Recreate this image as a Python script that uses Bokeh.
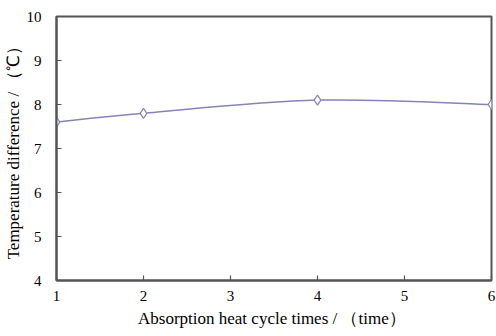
from bokeh.plotting import figure
from bokeh.models import Range1d, FixedTicker, ColumnDataSource
from bokeh.embed import file_html
from bokeh.resources import INLINE

# Absorption heat cycle count vs. temperature difference
cycles = [1, 2, 4, 6]
temp_diff = [7.6, 7.8, 8.1, 8.0]
x_ticks = [1, 2, 3, 4, 5, 6]
y_ticks = [4, 5, 6, 7, 8, 9, 10]

LINE = "#8484b8"
AXIS = "#555555"
FONT = "Liberation Serif"

p = figure(width=496, height=336, output_backend="svg", toolbar_location=None,
           x_range=Range1d(1, 6), y_range=Range1d(4, 10),
           min_border_left=56, min_border_right=5, min_border_top=16, min_border_bottom=56)
p.background_fill_color = "white"
p.border_fill_color = "white"
p.grid.visible = False
p.outline_line_color = AXIS
p.outline_line_width = 2

# Smoothed line through the points (Catmull-Rom style Bezier segments)
n = len(cycles)
x0, y0, x1, y1, cx0, cy0, cx1, cy1 = [], [], [], [], [], [], [], []
for i in range(n - 1):
    xa, ya = cycles[max(i - 1, 0)], temp_diff[max(i - 1, 0)]
    xb, yb = cycles[i], temp_diff[i]
    xc, yc = cycles[i + 1], temp_diff[i + 1]
    xd, yd = cycles[min(i + 2, n - 1)], temp_diff[min(i + 2, n - 1)]
    x0.append(xb); y0.append(yb); x1.append(xc); y1.append(yc)
    cx0.append(xb + (xc - xa) / 6); cy0.append(yb + (yc - ya) / 6)
    cx1.append(xc - (xd - xb) / 6); cy1.append(yc - (yd - yb) / 6)
seg = ColumnDataSource(dict(x0=x0, y0=y0, x1=x1, y1=y1, cx0=cx0, cy0=cy0, cx1=cx1, cy1=cy1))
p.bezier(x0="x0", y0="y0", x1="x1", y1="y1", cx0="cx0", cy0="cy0", cx1="cx1", cy1="cy1",
         source=seg, line_color=LINE, line_width=1.5)

p.scatter(cycles, temp_diff, marker="diamond", size=10, fill_color="white",
          line_color=LINE, line_width=1.2)

for ax in (p.xaxis[0], p.yaxis[0]):
    ax.axis_line_color = AXIS
    ax.axis_line_width = 2
    ax.major_tick_line_color = AXIS
    ax.major_tick_line_width = 1.2
    ax.major_tick_in = 5
    ax.major_tick_out = 0
    ax.minor_tick_line_color = None
    ax.major_label_text_font = FONT
    ax.major_label_text_font_size = "15px"
    ax.major_label_text_color = "black"
    ax.axis_label_text_font = FONT
    ax.axis_label_text_font_size = "17px"
    ax.axis_label_text_font_style = "normal"
    ax.axis_label_text_color = "black"

p.xaxis[0].ticker = FixedTicker(ticks=x_ticks)
p.yaxis[0].ticker = FixedTicker(ticks=y_ticks)
p.xaxis[0].major_label_standoff = 10
p.yaxis[0].major_label_standoff = 15
p.xaxis[0].axis_label = "Absorption  heat cycle times / （time）"
p.yaxis[0].axis_label = "Temperature difference / （℃）"
p.xaxis[0].axis_label_standoff = 5
p.yaxis[0].axis_label_standoff = 1

open("out.html", "w").write(file_html(p, INLINE))
